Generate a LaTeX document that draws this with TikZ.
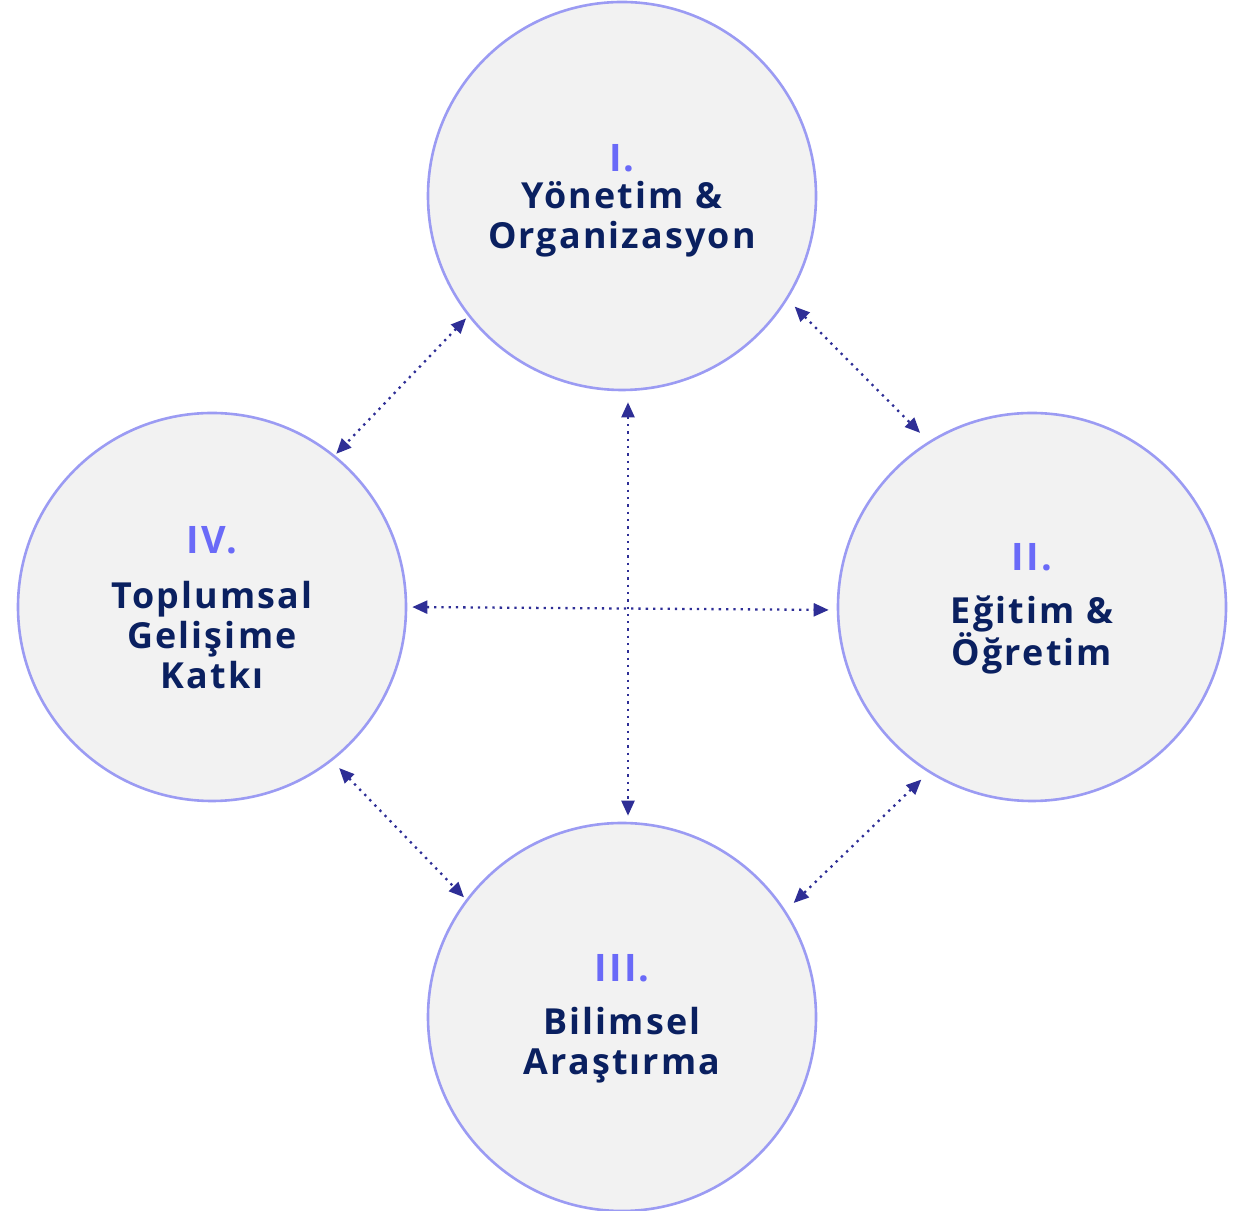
\documentclass[tikz,border=0pt]{standalone}
\usepackage{fontspec}
\newfontfamily\lblfont{Open Sans}[LetterSpace=6]
\usepackage{tikz}
\usetikzlibrary{positioning,calc,arrows.meta}
\definecolor{ringcol}{HTML}{9B9BF3}
\definecolor{fillcol}{HTML}{F2F2F2}
\definecolor{navy}{HTML}{0A2060}
\definecolor{numcol}{HTML}{6A6AF8}
\definecolor{linkcol}{HTML}{2E2E96}

\begin{document}
\begin{tikzpicture}[x=1bp,y=1bp,
    area/.style={circle,draw=ringcol,fill=fillcol,line width=2.6bp,minimum size=388bp,inner sep=0pt},
    title/.style={text=navy,align=center,font=\lblfont\bfseries\fontsize{36}{40}\selectfont},
    numeral/.style={text=numcol,font=\lblfont\bfseries\fontsize{38}{40}\selectfont},
    link/.style={linkcol,line width=2.3bp,dash pattern=on 2.3bp off 5bp,
      {Triangle[length=15bp,width=13bp]}-{Triangle[length=15bp,width=13bp]}}]
  \useasboundingbox (0,0) rectangle (1239,1211);
  %%
    % Node: top
    \node[area] (top) at (622,1015) {};
    \node[title] (toplbl) at (622,992) {Yönetim \&\\Organizasyon};
    \node[numeral] (topnum) at (622,1053) {I.};
    % Node: right
    \node[area] (right) at (1032,604) {};
    \node[title] (rightlbl) at (1032,576) {Eğitim \&\\Öğretim};
    \node[numeral] (rightnum) at (1032,654) {II.};
    % Node: bottom
    \node[area] (bottom) at (622,194) {};
    \node[title] (bottomlbl) at (622,166) {Bilimsel\\Araştırma};
    \node[numeral] (bottomnum) at (622,243) {III.};
    % Node: left
    \node[area] (left) at (212,604) {};
    \node[title] (leftlbl) at (212,576) {Toplumsal\\Gelişime\\Katkı};
    \node[numeral] (leftnum) at (212,671) {IV.};
  %%
    % Edge: top <-> left
    \draw[link,shorten <=3bp,shorten >=2bp] (top.218) -- (left.51);
    % Edge: top <-> right
    \draw[link,shorten <=10bp,shorten >=12bp] (top.-32) -- (right.122);
    % Edge: left <-> bottom
    \draw[link,shorten <=10bp,shorten >=3bp] (left.-52) -- (bottom.143);
    % Edge: right <-> bottom
    \draw[link,shorten <=10bp,shorten >=11bp] (right.-122) -- (bottom.33);
    % Edge: top <-> bottom
    \draw[link,shorten <=11bp,shorten >=6bp] ([xshift=6bp]top.south) -- ([xshift=6bp]bottom.north);
    % Edge: left <-> right
    \draw[link,shorten <=5bp,shorten >=8bp] (left.east) -- ([yshift=-3bp]right.west);
  %
\end{tikzpicture}
\end{document}
